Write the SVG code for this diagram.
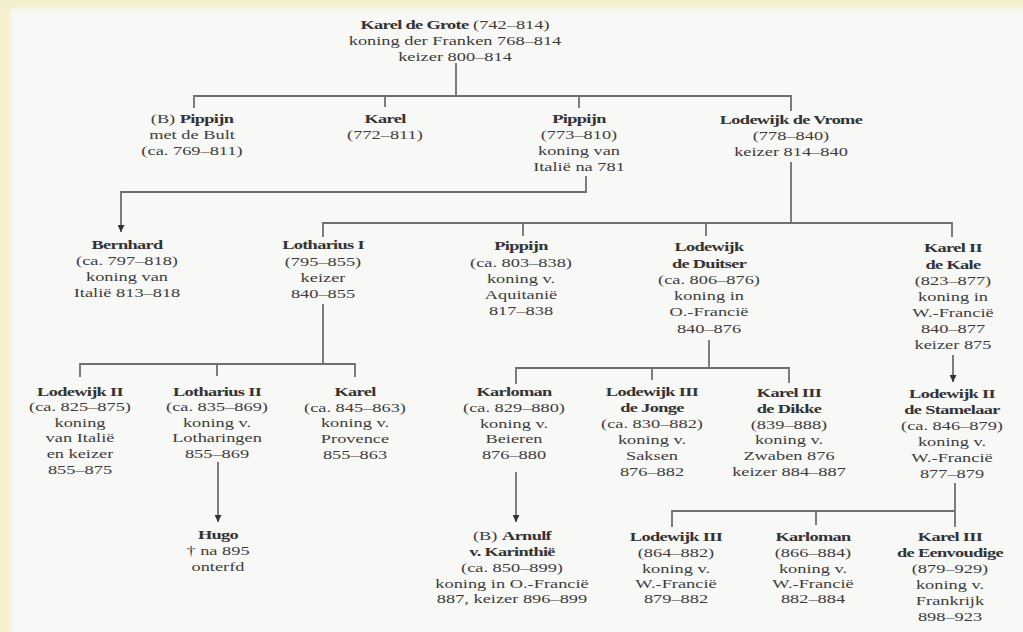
<svg xmlns="http://www.w3.org/2000/svg" width="1023" height="632" viewBox="0 0 1023 632">
<style>
text{font-family:"Liberation Serif","Times New Roman",serif;font-size:13.5px;fill:#3d3d3d;text-anchor:middle}
.b{font-weight:bold;fill:#333;letter-spacing:-0.5px}
.r{font-weight:normal;letter-spacing:0}
#connectors path{fill:none;stroke:#6f6f6f;stroke-width:1.8}
</style>
<defs>
<marker id="arr" viewBox="0 0 10 10" refX="10" refY="5" markerWidth="7" markerHeight="7" markerUnits="userSpaceOnUse" orient="auto"><path d="M0,0 L10,5 L0,10 z" fill="#333"/></marker>
<filter id="soft" x="-5%" y="-5%" width="110%" height="110%"><feGaussianBlur stdDeviation="2"/></filter>
</defs>
<rect width="1023" height="632" fill="#f3eecb"/>
<rect x="10" y="8" width="1030" height="640" fill="#f8f8f6" filter="url(#soft)"/>

<g id="connectors">
<path d="M456 63V96"/>
<path d="M194 108V96H791V111"/>
<path d="M385 96V107"/>
<path d="M579 96V108"/>
<path d="M586 176V192H121V232" marker-end="url(#arr)"/>
<path d="M791 162V223"/>
<path d="M323 237V223H952V237"/>
<path d="M523 223V236"/>
<path d="M706 223V236"/>
<path d="M323 304V364"/>
<path d="M80 377V364H355V377"/>
<path d="M217 364V376"/>
<path d="M218 462V522" marker-end="url(#arr)"/>
<path d="M709 340V368"/>
<path d="M516 384V368H789V383"/>
<path d="M652 368V380"/>
<path d="M516 472V522" marker-end="url(#arr)"/>
<path d="M953 355V382" marker-end="url(#arr)"/>
<path d="M955 483V527"/>
<path d="M672 527V511H955"/>
<path d="M816 511V525"/>
</g>

<g id="karel-de-grote" transform="translate(455 0) scale(1.36 1)">
<text x="0" y="29"><tspan class="b">Karel de Grote</tspan> (742–814)</text>
<text x="0" y="45">koning der Franken 768–814</text>
<text x="0" y="61">keizer 800–814</text>
</g>

<g id="pippijn-de-bult" transform="translate(192 0) scale(1.36 1)">
<text x="0" y="123">(B) <tspan class="b">Pippijn</tspan></text>
<text x="0" y="139">met de Bult</text>
<text x="0" y="155">(ca. 769–811)</text>
</g>

<g id="karel-772" transform="translate(385 0) scale(1.36 1)">
<text x="0" y="123" class="b">Karel</text>
<text x="0" y="139">(772–811)</text>
</g>

<g id="pippijn-italie" transform="translate(579 0) scale(1.36 1)">
<text x="0" y="123" class="b">Pippijn</text>
<text x="0" y="139">(773–810)</text>
<text x="0" y="155">koning van</text>
<text x="0" y="171">Italië na 781</text>
</g>

<g id="lodewijk-de-vrome" transform="translate(791 0) scale(1.36 1)">
<text x="0" y="124" class="b">Lodewijk de Vrome</text>
<text x="0" y="140">(778–840)</text>
<text x="0" y="156">keizer 814–840</text>
</g>

<g id="bernhard" transform="translate(127 0) scale(1.36 1)">
<text x="0" y="249" class="b">Bernhard</text>
<text x="0" y="265">(ca. 797–818)</text>
<text x="0" y="281">koning van</text>
<text x="0" y="297">Italië 813–818</text>
</g>

<g id="lotharius-i" transform="translate(323 0) scale(1.36 1)">
<text x="0" y="249" class="b">Lotharius I</text>
<text x="0" y="266">(795–855)</text>
<text x="0" y="282">keizer</text>
<text x="0" y="298">840–855</text>
</g>

<g id="pippijn-aquitanie" transform="translate(521 0) scale(1.36 1)">
<text x="0" y="250" class="b">Pippijn</text>
<text x="0" y="267">(ca. 803–838)</text>
<text x="0" y="283">koning v.</text>
<text x="0" y="299">Aquitanië</text>
<text x="0" y="315">817–838</text>
</g>

<g id="lodewijk-de-duitser" transform="translate(709 0) scale(1.36 1)">
<text x="0" y="251" class="b">Lodewijk</text>
<text x="0" y="268" class="b">de Duitser</text>
<text x="0" y="284">(ca. 806–876)</text>
<text x="0" y="300">koning in</text>
<text x="0" y="316">O.-Francië</text>
<text x="0" y="333">840–876</text>
</g>

<g id="karel-ii-de-kale" transform="translate(953 0) scale(1.36 1)">
<text x="0" y="252" class="b">Karel II</text>
<text x="0" y="269" class="b">de Kale</text>
<text x="0" y="285">(823–877)</text>
<text x="0" y="301">koning in</text>
<text x="0" y="317">W.-Francië</text>
<text x="0" y="333">840–877</text>
<text x="0" y="349">keizer 875</text>
</g>

<g id="lodewijk-ii" transform="translate(80 0) scale(1.36 1)">
<text x="0" y="396" class="b">Lodewijk II</text>
<text x="0" y="411">(ca. 825–875)</text>
<text x="0" y="427">koning</text>
<text x="0" y="442">van Italië</text>
<text x="0" y="458">en keizer</text>
<text x="0" y="474">855–875</text>
</g>

<g id="lotharius-ii" transform="translate(217 0) scale(1.36 1)">
<text x="0" y="396" class="b">Lotharius II</text>
<text x="0" y="411">(ca. 835–869)</text>
<text x="0" y="427">koning v.</text>
<text x="0" y="442">Lotharingen</text>
<text x="0" y="458">855–869</text>
</g>

<g id="karel-provence" transform="translate(355 0) scale(1.36 1)">
<text x="0" y="396" class="b">Karel</text>
<text x="0" y="412">(ca. 845–863)</text>
<text x="0" y="427">koning v.</text>
<text x="0" y="443">Provence</text>
<text x="0" y="459">855–863</text>
</g>

<g id="karloman-beieren" transform="translate(514 0) scale(1.36 1)">
<text x="0" y="396" class="b">Karloman</text>
<text x="0" y="412">(ca. 829–880)</text>
<text x="0" y="428">koning v.</text>
<text x="0" y="443">Beieren</text>
<text x="0" y="459">876–880</text>
</g>

<g id="lodewijk-iii-de-jonge" transform="translate(652 0) scale(1.36 1)">
<text x="0" y="396" class="b">Lodewijk III</text>
<text x="0" y="412" class="b">de Jonge</text>
<text x="0" y="428">(ca. 830–882)</text>
<text x="0" y="444">koning v.</text>
<text x="0" y="460">Saksen</text>
<text x="0" y="476">876–882</text>
</g>

<g id="karel-iii-de-dikke" transform="translate(789 0) scale(1.36 1)">
<text x="0" y="397" class="b">Karel III</text>
<text x="0" y="413" class="b">de Dikke</text>
<text x="0" y="429">(839–888)</text>
<text x="0" y="444">koning v.</text>
<text x="0" y="460">Zwaben 876</text>
<text x="0" y="476">keizer 884–887</text>
</g>

<g id="lodewijk-ii-de-stamelaar" transform="translate(952 0) scale(1.36 1)">
<text x="0" y="398" class="b">Lodewijk II</text>
<text x="0" y="414" class="b">de Stamelaar</text>
<text x="0" y="430">(ca. 846–879)</text>
<text x="0" y="446">koning v.</text>
<text x="0" y="462">W.-Francië</text>
<text x="0" y="478">877–879</text>
</g>

<g id="hugo" transform="translate(218 0) scale(1.36 1)">
<text x="0" y="539" class="b">Hugo</text>
<text x="0" y="555">† na 895</text>
<text x="0" y="571">onterfd</text>
</g>

<g id="arnulf" transform="translate(512 0) scale(1.36 1)">
<text x="0" y="540">(B) <tspan class="b">Arnulf</tspan></text>
<text x="0" y="556" class="b">v. Karinthië</text>
<text x="0" y="572">(ca. 850–899)</text>
<text x="0" y="588">koning in O.-Francië</text>
<text x="0" y="603">887, keizer 896–899</text>
</g>

<g id="lodewijk-iii" transform="translate(676 0) scale(1.36 1)">
<text x="0" y="541" class="b">Lodewijk III</text>
<text x="0" y="557">(864–882)</text>
<text x="0" y="573">koning v.</text>
<text x="0" y="588">W.-Francië</text>
<text x="0" y="603">879–882</text>
</g>

<g id="karloman-wfrancie" transform="translate(813 0) scale(1.36 1)">
<text x="0" y="541" class="b">Karloman</text>
<text x="0" y="557">(866–884)</text>
<text x="0" y="573">koning v.</text>
<text x="0" y="588">W.-Francië</text>
<text x="0" y="603">882–884</text>
</g>

<g id="karel-iii-de-eenvoudige" transform="translate(950 0) scale(1.36 1)">
<text x="0" y="541" class="b">Karel III</text>
<text x="0" y="557" class="b">de Eenvoudige</text>
<text x="0" y="573">(879–929)</text>
<text x="0" y="589">koning v.</text>
<text x="0" y="605">Frankrijk</text>
<text x="0" y="621">898–923</text>
</g>
</svg>
